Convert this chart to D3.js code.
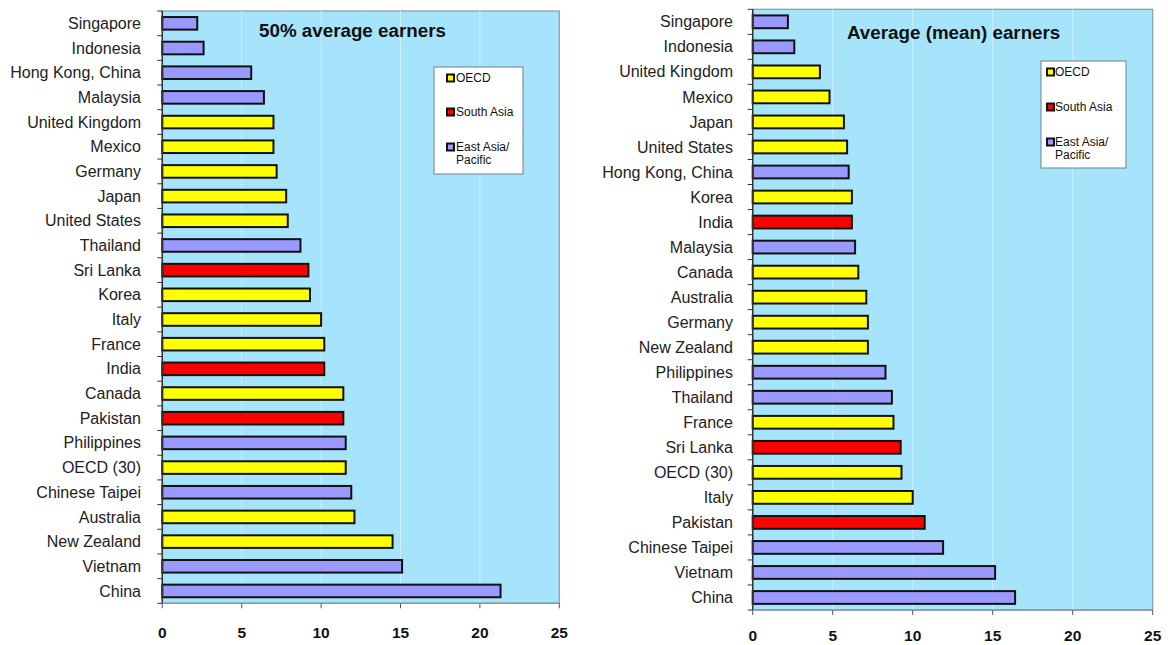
<!DOCTYPE html>
<html><head><meta charset="utf-8">
<script src="https://cdn.jsdelivr.net/npm/d3@7"></script>
<style>body{margin:0;background:#fff}svg{display:block}</style>
</head><body><svg id="c" width="1168" height="645"></svg>
<script>
// Left panel: 50% average earners
const leftCountries = ["Singapore","Indonesia","Hong Kong, China","Malaysia","United Kingdom","Mexico","Germany","Japan","United States","Thailand","Sri Lanka","Korea","Italy","France","India","Canada","Pakistan","Philippines","OECD (30)","Chinese Taipei","Australia","New Zealand","Vietnam","China"];
const leftValues = [2.2,2.6,5.6,6.4,7.0,7.0,7.2,7.8,7.9,8.7,9.2,9.3,10.0,10.2,10.2,11.4,11.4,11.55,11.55,11.9,12.1,14.5,15.1,21.3];
const leftGroups = ["E","E","E","E","O","O","O","O","O","E","S","O","O","O","S","O","S","E","O","E","O","O","E","E"];
// Right panel: Average (mean) earners
const rightCountries = ["Singapore","Indonesia","United Kingdom","Mexico","Japan","United States","Hong Kong, China","Korea","India","Malaysia","Canada","Australia","Germany","New Zealand","Philippines","Thailand","France","Sri Lanka","OECD (30)","Italy","Pakistan","Chinese Taipei","Vietnam","China"];
const rightValues = [2.2,2.6,4.2,4.8,5.7,5.9,6.0,6.2,6.2,6.4,6.6,7.1,7.2,7.2,8.3,8.7,8.8,9.25,9.3,10.0,10.75,11.9,15.15,16.4];
const rightGroups = ["E","E","O","O","O","O","E","O","S","E","O","O","O","O","E","E","O","S","O","O","S","E","E","E"];
const xTicks = [0,5,10,15,20,25];
const groupKeys = ["O","S","E"];
const groupNames = ["OECD","South Asia","East Asia/\nPacific"];
const groupColors = ["#ffff00","#ff0000","#9999ff"];

const color = d3.scaleOrdinal().domain(groupKeys).range(groupColors);
const svg = d3.select("#c");
const FONT = "Liberation Sans, Arial, sans-serif";

function panel(cfg){
  const {left,right,top,bottom,countries,values,groups,title,titleX,titleY,labelX,tickY,legend} = cfg;
  const x = d3.scaleLinear().domain([0,25]).range([left,right]);
  const y = d3.scaleBand().domain(countries).range([top,bottom]).paddingInner(0.49).paddingOuter(0.245);
  const g = svg.append("g");
  g.append("rect").attr("x",left).attr("y",top).attr("width",right-left).attr("height",bottom-top)
    .attr("fill","#a6e4fb").attr("stroke","#8a9aa4").attr("stroke-width",1.2);
  g.selectAll(".grid").data(xTicks.slice(1,-1)).enter().append("line")
    .attr("x1",d=>x(d)).attr("x2",d=>x(d)).attr("y1",top).attr("y2",bottom)
    .attr("stroke","#cdeefc").attr("stroke-width",1);
  g.selectAll(".bar").data(countries).enter().append("rect")
    .attr("x",x(0)).attr("y",d=>y(d)).attr("width",(d,i)=>x(values[i])-x(0)).attr("height",y.bandwidth())
    .attr("fill",(d,i)=>color(groups[i])).attr("stroke","#111").attr("stroke-width",2);
  g.append("line").attr("x1",left).attr("x2",left).attr("y1",top).attr("y2",bottom).attr("stroke","#333").attr("stroke-width",1.5);
  const step = (bottom-top)/countries.length;
  g.selectAll(".ct").data(d3.range(countries.length+1)).enter().append("line")
    .attr("x1",left-5).attr("x2",left).attr("y1",d=>top+d*step).attr("y2",d=>top+d*step)
    .attr("stroke","#333").attr("stroke-width",1);
  g.selectAll(".cl").data(countries).enter().append("text")
    .attr("x",labelX).attr("y",d=>y(d)+y.bandwidth()/2).attr("dy","0.35em")
    .attr("text-anchor","end").attr("font-family",FONT).attr("font-size",16).attr("fill","#222").text(d=>d);
  g.append("line").attr("x1",left).attr("x2",right).attr("y1",bottom).attr("y2",bottom).attr("stroke","#8a9aa4").attr("stroke-width",1.5);
  g.selectAll(".xt").data(xTicks).enter().append("line")
    .attr("x1",d=>x(d)).attr("x2",d=>x(d)).attr("y1",bottom).attr("y2",bottom+5).attr("stroke","#555");
  g.selectAll(".xl").data(xTicks).enter().append("text")
    .attr("x",d=>x(d)).attr("y",tickY).attr("dy","0.35em").attr("text-anchor","middle")
    .attr("font-family",FONT).attr("font-weight","bold").attr("font-size",15.5).attr("fill","#111").text(d=>d);
  g.append("text").attr("x",titleX).attr("y",titleY).attr("dy","0.35em").attr("font-family",FONT)
    .attr("font-weight","bold").attr("font-size",18.8).attr("fill","#111").text(title);
  const L = legend;
  g.append("rect").attr("x",L.x).attr("y",L.y).attr("width",L.w).attr("height",L.h)
    .attr("fill","#fff").attr("stroke","#6b7f8c").attr("stroke-width",1);
  groupKeys.forEach((k,i)=>{
    const yy = L.rows[i];
    g.append("rect").attr("x",L.sx).attr("y",yy-3.5).attr("width",7).attr("height",7)
      .attr("fill",color(k)).attr("stroke","#111").attr("stroke-width",2);
    const lines = groupNames[i].split("\n");
    lines.forEach((t,j)=>{
      g.append("text").attr("x",L.tx).attr("y",yy+j*13).attr("dy","0.35em")
        .attr("font-family",FONT).attr("font-size",12).attr("fill","#111").text(t);
    });
  });
}

panel({left:162.3,right:559.3,top:11,bottom:603.3,countries:leftCountries,values:leftValues,groups:leftGroups,
  title:"50% average earners",titleX:259,titleY:30,labelX:141,tickY:633,
  legend:{x:434,y:67,w:89,h:107,sx:447,tx:456,rows:[78,112,147]}});
panel({left:752.7,right:1152.7,top:9.3,bottom:610,countries:rightCountries,values:rightValues,groups:rightGroups,
  title:"Average (mean) earners",titleX:847,titleY:32,labelX:733,tickY:635.5,
  legend:{x:1041,y:61,w:85,h:107,sx:1047,tx:1055,rows:[72,107,142]}});
</script></body></html>
